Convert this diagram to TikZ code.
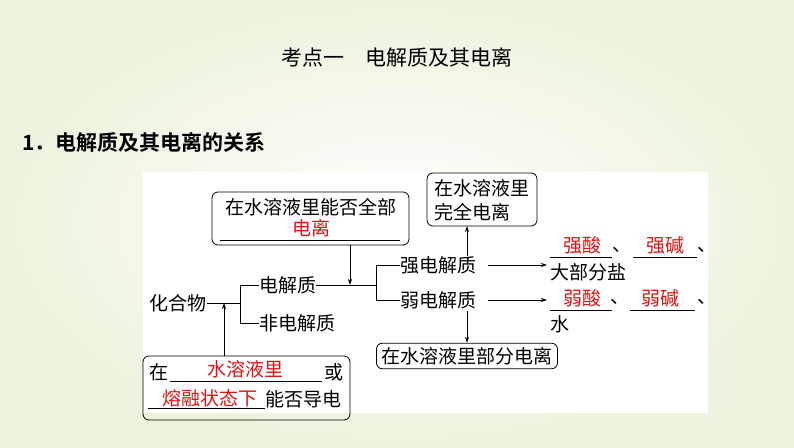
\documentclass[tikz,border=0pt]{standalone}
\usepackage{fontspec}
\setmainfont{Noto Sans CJK SC}
\newfontfamily\cjkb{Noto Sans CJK SC Bold}
\usetikzlibrary{arrows.meta}
\definecolor{bgg}{RGB}{236,243,222}
\definecolor{tred}{RGB}{220,20,20}
\tikzset{
  t/.style={inner sep=0pt,font=\fontsize{19}{21}\selectfont,anchor=center},
  r/.style={t,text=tred},
  rbox/.style={draw,rounded corners=6pt,line width=0.8pt},
  ln/.style={line width=0.7pt},
  ar/.style={ln,-{Stealth[length=6pt,width=4pt]}}
}
\begin{document}
\begin{tikzpicture}[x=1pt,y=-1pt]
\shade[inner color=white,outer color=bgg] (0,0) rectangle (794,447);
\useasboundingbox (0,0) rectangle (794,447);
\fill[white] (143,172) rectangle (708,413);
\node[t,font=\fontsize{21}{23}\selectfont] (title) at (397,57) {考点一\quad 电解质及其电离};
\node[t,anchor=west,font=\fontsize{21}{23}\selectfont\cjkb] (h1) at (22,142) {1．电解质及其电离的关系};
% box1
\draw[rbox] (212,192) rectangle (409,245);
\node[t] (b1a) at (311,207) {在水溶液里能否全部};
\node[r] (b1b) at (311,228) {电离};
\draw[ln] (220,240) -- (400,240);
\coordinate (b1s) at (350,245);
% box2
\draw[rbox] (427,173) rectangle (537,226);
\node[t,anchor=west] (b2a) at (434,188) {在水溶液里};
\node[t,anchor=west] (b2b) at (434,212) {完全电离};
\coordinate (b2s) at (467,226);
% box4
\node[rbox,t,inner xsep=5pt,inner ysep=4pt] (b4) at (467,356) {在水溶液里部分电离};
% box3
\draw[rbox] (143,356) rectangle (350,420);
\node[t] (c1) at (159,372) {在};
\node[r] (c2) at (245,369) {水溶液里};
\draw[ln] (170,381) -- (322,381);
\node[t] (c3) at (334,372) {或};
\node[r] (c4) at (210,398) {熔融状态下};
\draw[ln] (148,408) -- (265,408);
\node[t] (c5) at (303,399) {能否导电};
\coordinate (b3s) at (224,356);
% left tree
\node[t] (hhw) at (178,303) {化合物};
\node[t,anchor=west] (djz) at (259,285) {电解质};
\node[t,anchor=west] (fdj) at (259,323) {非电解质};
\coordinate (j1) at (224,303);
\draw[ln] (hhw.east) -- (240,303);
\draw[ln] (djz.west) -- (240,285) -- (240,323) -- (fdj.west);
\draw[ar] (b3s) -- (j1);
% strong/weak
\node[t,anchor=west] (qd) at (400,265) {强电解质};
\node[t,anchor=west] (rd) at (400,300) {弱电解质};
\coordinate (j2) at (350,285);
\draw[ln] (djz.east) -- (376,285);
\draw[ln] (qd.west) -- (376,265) -- (376,300) -- (rd.west);
\draw[ar] (b1s) -- (j2);
\draw[ar] (467,256) -- (b2s);
\draw[ar] (467,311) -- (b4.north);
% right
\coordinate (qe) at (547,265);
\coordinate (re) at (547,300);
\draw[ar] (488,265) -- (qe);
\draw[ar] (488,300) -- (re);
\node[r] (qs) at (582,245) {强酸};
\draw[ln] (550,257) -- (612,257);
\node[t] (d1) at (622,250) {、};
\node[r] (qj) at (665,245) {强碱};
\draw[ln] (633,257) -- (697,257);
\node[t] (d2) at (707,250) {、};
\node[t,anchor=west] (dbf) at (550,272) {大部分盐};
\node[r] (rs) at (582,298) {弱酸};
\draw[ln] (550,310) -- (612,310);
\node[t] (d3) at (620,302) {、};
\node[r] (rj) at (660,298) {弱碱};
\draw[ln] (630,310) -- (695,310);
\node[t] (d4) at (707,302) {、};
\node[t,anchor=west] (sh) at (550,324) {水};
\end{tikzpicture}
\end{document}
